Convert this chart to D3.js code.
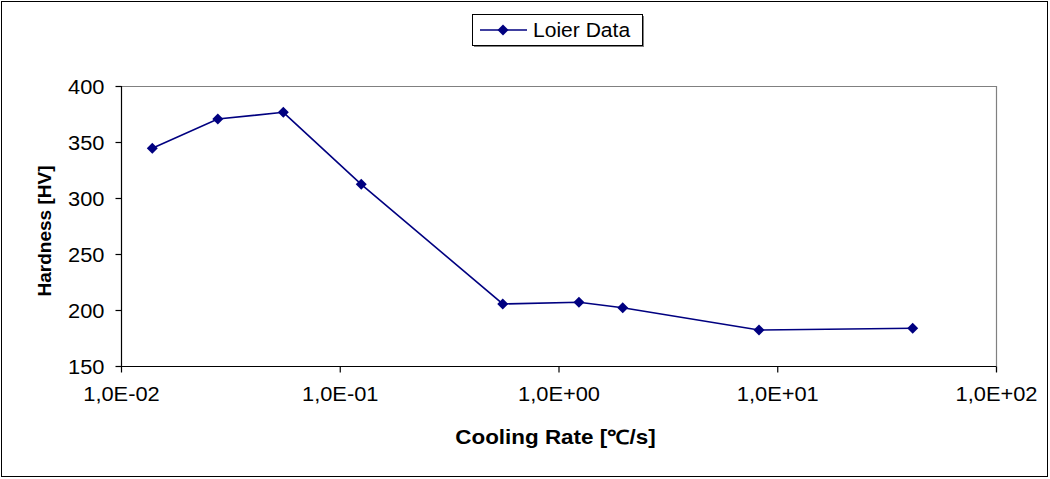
<!DOCTYPE html>
<html><head><meta charset="utf-8">
<script src="https://cdn.jsdelivr.net/npm/d3@7"></script>
<style>body{margin:0;background:#fff}svg{display:block}text{font-family:"Liberation Sans",Arial,sans-serif}</style>
</head><body>
<svg id="c" width="1050" height="479"></svg>
<script>
const coolingRate = [0.0139, 0.0277, 0.0552, 0.1254, 0.556, 1.24, 1.966, 8.25, 41.6];
const hardness    = [344.4, 370.5, 376.5, 312.2, 205.4, 206.9, 202.0, 182.1, 183.7];
const xTicks = [0.01, 0.1, 1, 10, 100];
const xTickLabels = ["1,0E-02", "1,0E-01", "1,0E+00", "1,0E+01", "1,0E+02"];
const yTicks = [150, 200, 250, 300, 350, 400];
const seriesName = "Loier Data";
const xTitle = "Cooling Rate [℃/s]";
const yTitle = "Hardness [HV]";

const svg = d3.select("#c");
const L = 121, R = 996, T = 86, B = 366;
const color = "#000080";
const fs = 19.5;
const sx = 1.12;

svg.append("rect").attr("x",1.5).attr("y",1.5).attr("width",1046).attr("height",475)
  .attr("fill","#fff").attr("stroke","#000").attr("stroke-width",1);

const x = d3.scaleLog().domain([0.01,100]).range([L,R]);
const y = d3.scaleLinear().domain([150,400]).range([B,T]);

svg.append("path").attr("d",`M${L},${T+0.5}H${R+0.5}V${B+6}`).attr("fill","none").attr("stroke","#808080").attr("stroke-width",1.2);

const yAxis = svg.append("g").attr("transform",`translate(${L+0.5},0)`)
  .call(d3.axisLeft(y).tickValues(yTicks).tickSize(6).tickSizeOuter(0).tickPadding(0).tickFormat(d3.format("d")));
const xAxis = svg.append("g").attr("transform",`translate(0,${B+0.5})`)
  .call(d3.axisBottom(x).tickValues(xTicks).tickSize(6).tickSizeOuter(0).tickPadding(0)
    .tickFormat((d,i)=>xTickLabels[i]));
[yAxis,xAxis].forEach(a=>{
  a.selectAll("path,line").attr("stroke","#000").attr("stroke-width",1.2);
  a.selectAll("text").attr("font-size",fs).attr("fill","#000").attr("font-family","Liberation Sans, Arial, sans-serif");
});
yAxis.selectAll(".tick text").attr("x",null).attr("dy",null)
  .attr("transform",`translate(-17,7) scale(${sx},1)`);
xAxis.selectAll(".tick text").attr("y",null).attr("dy",null)
  .attr("transform",`translate(0,34) scale(${sx},1)`);
xAxis.select(".domain").attr("d",`M${L},0H${R}`);
yAxis.select(".domain").attr("d",`M0,${T}V${B}`);

const data = coolingRate.map((c,i)=>({c,h:hardness[i]}));
svg.append("path").datum(data)
  .attr("d",d3.line().x(d=>x(d.c)).y(d=>y(d.h)))
  .attr("fill","none").attr("stroke",color).attr("stroke-width",1.6);
const diamond = "M0,-5.5L5.5,0L0,5.5L-5.5,0Z";
svg.selectAll(".pt").data(data).enter().append("path").attr("class","pt")
  .attr("d",diamond).attr("transform",d=>`translate(${x(d.c)},${y(d.h)})`).attr("fill",color);

svg.append("text").attr("transform",`translate(${(L+R)/2-3},444) scale(1.15,1)`).attr("text-anchor","middle")
  .attr("font-size",fs).attr("font-weight","bold").text(xTitle);
svg.append("text").attr("transform",`translate(51,231) rotate(-90)`).attr("text-anchor","middle")
  .attr("font-size",19).attr("font-weight","bold").text(yTitle);

const lg = svg.append("g");
lg.append("rect").attr("x",474).attr("y",16).attr("width",170).attr("height",31).attr("fill","#808080");
lg.append("rect").attr("x",472.5).attr("y",14.5).attr("width",170).attr("height",31).attr("fill","#fff").attr("stroke","#000").attr("stroke-width",1);
lg.append("line").attr("x1",480).attr("x2",527).attr("y1",30).attr("y2",30).attr("stroke",color).attr("stroke-width",1.6);
lg.append("path").attr("d",diamond).attr("transform","translate(503,30)").attr("fill",color);
lg.append("text").attr("transform","translate(533,37) scale(1.08,1)").attr("font-size",19.5).text(seriesName);
</script>
</body></html>
